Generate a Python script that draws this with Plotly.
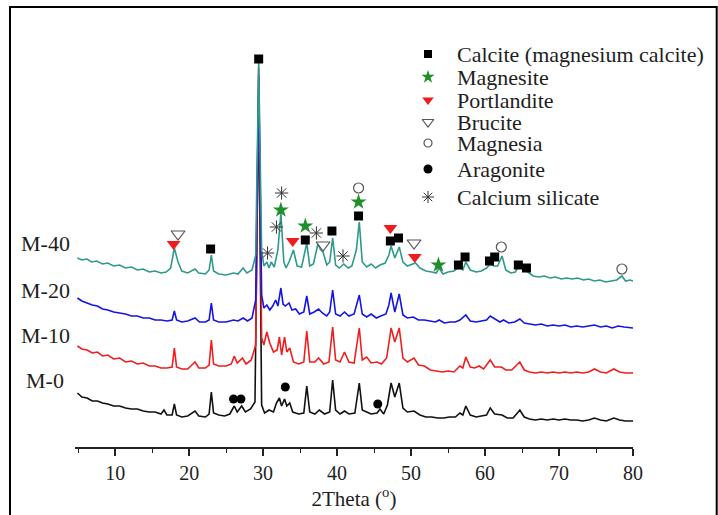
import plotly.graph_objects as go

# ---------------- data (2Theta in degrees, stacked intensity in a.u.) ----------------
m40_x = [4.9,5.5,6.2,6.8,7.5,8.3,9.0,9.8,10.6,11.4,12.2,13.0,13.8,14.6,15.4,16.2,16.9,17.5,18.0,18.5,19.0,19.8,20.8,21.3,22.2,22.7,23.0,23.3,24.0,25.0,26.0,26.6,27.3,27.8,28.5,29.0,29.4,29.8,30.1,30.5,30.8,31.1,31.5,32.0,32.4,32.8,33.1,33.5,34.1,34.6,35.2,35.9,36.3,36.8,37.4,37.8,38.1,38.6,39.0,39.4,39.8,40.3,40.9,41.5,42.0,42.6,43.0,43.4,44.0,44.6,45.2,45.8,46.5,47.0,47.3,47.8,48.4,48.9,49.5,50.2,50.6,51.2,52.0,52.8,53.4,53.8,54.3,55.0,55.8,56.5,57.0,57.4,58.0,58.8,59.5,60.2,60.7,61.2,61.7,62.3,62.8,63.5,64.1,64.6,65.2,65.8,66.5,67.3,68.0,68.8,69.5,70.3,71.0,71.8,72.5,73.3,74.0,74.8,75.5,76.3,77.0,77.8,78.5,79.0,79.6,80.0]
m40_y = [189,187,188,185,186,183,184,181,182,179,180,177,178,175,176,174,175,179,199,185,176,174,178,174,173,177,192,176,173,172,174,173,179,174,177,192,385,197,181,185,179,185,180,197,234,185,179,185,197,181,180,204,181,183,203,197,195,182,185,209,182,179,183,179,181,197,225,185,180,183,179,182,184,192,201,189,200,185,181,183,184,179,176,175,174,179,173,175,176,180,177,185,177,175,176,179,183,181,181,191,177,174,175,182,177,175,171,170,171,169,170,168,169,168,169,167,168,166,167,165,166,167,171,166,167,166]

m20_x = [4.9,5.5,6.2,6.9,7.6,8.3,9.0,9.8,10.6,11.4,12.2,13.0,13.8,14.6,15.4,16.2,17.0,17.7,18.0,18.3,19.0,19.8,20.8,21.4,22.2,22.7,23.0,23.3,24.0,25.0,26.0,26.6,27.3,27.9,28.5,29.0,29.4,29.8,30.1,30.5,30.9,31.3,31.7,32.0,32.4,32.7,33.0,33.5,33.9,34.4,34.9,35.5,35.9,36.3,36.9,37.5,38.0,38.6,39.0,39.4,39.8,40.4,41.0,41.6,42.3,43.0,43.4,44.0,44.6,45.3,45.9,46.6,47.0,47.3,47.8,48.4,48.9,49.5,50.3,51.0,51.8,52.6,53.3,53.8,54.5,55.3,56.0,56.6,57.4,58.0,58.8,59.5,60.2,60.7,61.3,62.0,62.5,63.2,64.0,64.7,65.3,66.0,66.8,67.6,68.4,69.2,70.0,70.8,71.6,72.4,73.2,74.0,74.8,75.6,76.4,77.2,78.0,78.8,79.5,80.0]
m20_y = [149,146,144,142,141,138,137,135,134,133,131,131,129,129,127,127,126,127,136,127,125,126,129,125,125,127,144,127,125,125,127,126,129,126,129,147,372,152,139,142,137,141,147,141,159,143,141,144,137,138,133,135,151,133,135,138,134,131,135,157,133,131,135,131,133,152,133,130,133,129,131,133,142,154,135,153,132,129,130,127,127,126,125,127,124,125,125,127,132,126,125,126,127,131,128,125,127,124,125,128,124,123,122,123,121,122,121,122,120,121,120,121,122,120,121,119,121,120,119,119]

m10_x = [4.9,5.5,6.2,6.9,7.6,8.3,9.0,9.8,10.6,11.4,12.2,13.0,13.8,14.6,15.4,16.2,17.0,17.7,18.0,18.3,19.0,19.8,20.8,21.3,22.2,22.7,23.0,23.3,24.0,25.0,25.7,26.1,26.5,27.2,27.7,28.4,29.0,29.4,29.8,30.1,30.5,30.9,31.4,31.9,32.2,32.5,32.9,33.2,33.6,34.1,34.8,35.5,35.9,36.3,37.0,37.5,38.2,38.9,39.4,39.8,40.4,41.0,41.6,42.3,43.0,43.4,44.0,44.6,45.4,46.0,46.7,47.3,47.8,48.4,48.9,49.5,50.4,51.0,51.8,52.6,53.4,54.2,55.0,55.8,56.6,57.0,57.4,58.0,58.6,59.2,59.8,60.7,61.3,62.2,62.8,63.6,64.7,65.3,66.0,66.8,67.6,68.4,69.2,70.0,70.8,71.6,72.4,73.2,74.0,74.8,75.6,76.4,77.4,78.2,79.0,80.0]
m10_y = [101,98,97,94,95,91,92,88,89,85,86,83,84,81,81,79,79,80,99,80,78,78,85,79,79,82,107,83,81,81,83,91,84,89,83,87,102,379,109,102,115,104,95,97,110,92,110,95,99,85,83,85,116,85,85,89,83,85,120,87,85,95,85,84,119,87,90,84,85,83,89,119,105,119,89,85,89,82,81,77,76,75,76,75,81,79,90,80,79,81,78,87,80,80,77,77,85,77,75,74,75,74,75,74,75,74,75,74,75,78,75,74,78,75,74,74]

m0_x = [4.9,5.5,6.2,6.9,7.6,8.3,9.0,9.8,10.6,11.4,12.2,13.0,13.8,14.6,15.4,16.2,16.6,17.0,17.7,18.0,18.3,19.0,19.8,20.8,21.3,22.2,22.7,23.0,23.3,24.0,24.8,25.5,26.1,26.5,27.1,27.6,28.3,28.9,29.4,29.8,30.2,30.8,31.4,31.8,32.2,32.5,32.9,33.2,33.6,34.0,34.8,35.5,35.9,36.3,37.0,37.6,38.3,39.0,39.4,39.8,40.4,41.0,41.6,42.4,43.0,43.4,44.0,44.6,45.4,45.8,46.3,46.8,47.3,47.8,48.4,48.9,49.5,50.4,51.2,52.0,52.8,53.6,54.4,55.2,56.0,56.6,57.0,57.4,58.0,58.8,59.5,60.2,60.7,61.3,62.3,63.0,63.8,64.7,65.3,66.0,66.8,67.6,68.4,69.2,70.0,70.8,71.6,72.4,73.2,74.0,74.8,75.6,76.4,77.4,78.2,79.0,80.0]
m0_y = [54,50,49,46,46,44,43,41,41,39,38,38,36,35,35,33,37,32,32,43,32,30,31,36,31,30,33,55,34,32,31,33,41,35,41,35,38,45,352,42,34,37,35,44,49,41,48,41,44,35,33,34,61,35,33,37,33,35,67,37,33,36,33,34,64,37,35,33,34,38,33,42,64,50,64,39,35,36,32,30,30,29,29,30,30,34,32,41,32,30,31,32,39,33,32,29,29,37,30,28,27,28,27,28,27,28,27,27,26,27,29,27,26,29,27,26,26]

curve_names = ["M-0", "M-10", "M-20", "M-40"]
curve_colors = ["#111111", "#f01e1e", "#1414e6", "#2e9a8c"]
label_y = [67, 112, 157, 204]

# phase markers (2Theta, stacked intensity)
calcite_x = [22.9, 29.4, 35.7, 39.3, 42.9, 47.2, 48.3, 56.4, 57.3, 60.6, 61.3, 64.5, 65.6]
calcite_y = [198, 388, 207, 216, 231, 206, 209, 182, 190, 186, 190, 182, 179]
magnesite_x = [32.4, 35.7, 42.9, 53.7]
magnesite_y = [237, 221, 245, 182]
portlandite_x = [17.9, 34.0, 47.2, 50.5]
portlandite_y = [203, 206, 219, 190]
brucite_x = [18.5, 38.1, 50.4]
brucite_y = [213, 202, 204]
magnesia_x = [42.9, 62.2, 78.5]
magnesia_y = [259, 200, 178]
aragonite_x = [26.0, 27.0, 33.0, 45.5]
aragonite_y = [48, 48, 60, 43]
silicate_x = [30.6, 31.8, 32.5, 37.2, 40.8]
silicate_y = [194, 220, 254, 214, 191]

x_ticks = [10, 20, 30, 40, 50, 60, 70, 80]

# ---------------- figure ----------------
FONT = "Liberation Serif, Times New Roman, serif"
TXT = "#1e1e1e"
fig = go.Figure()

curves_x = [m0_x, m10_x, m20_x, m40_x]
curves_y = [m0_y, m10_y, m20_y, m40_y]
for name, cx, cy, col in zip(curve_names, curves_x, curves_y, curve_colors):
    fig.add_trace(go.Scatter(x=cx, y=cy, mode="lines", name=name,
                             line=dict(color=col, width=1.6), showlegend=False,
                             hoverinfo="skip"))

phases = [
    ("Calcite (magnesium calcite)", calcite_x, calcite_y,
     dict(symbol="square", color="black", size=9)),
    ("Magnesite", magnesite_x, magnesite_y,
     dict(symbol="star", color="#1f8f2a", size=12)),
    ("Portlandite", portlandite_x, portlandite_y,
     dict(symbol="triangle-down", color="#ee1c1c", size=12)),
    ("Brucite", brucite_x, brucite_y,
     dict(symbol="triangle-down-open", color="#555555", size=12, line=dict(width=1.2))),
    ("Magnesia", magnesia_x, magnesia_y,
     dict(symbol="circle-open", color="#555555", size=10, line=dict(width=1.2))),
    ("Aragonite", aragonite_x, aragonite_y,
     dict(symbol="circle", color="black", size=9)),
    ("Calcium silicate", silicate_x, silicate_y,
     dict(symbol="asterisk-open", color="#333333", size=11, line=dict(width=1, color="#333333"))),
]
for name, px_, py_, mk in phases:
    fig.add_trace(go.Scatter(x=px_, y=py_, mode="markers", name=name, marker=mk,
                             cliponaxis=False, showlegend=False))

# hand-placed legend on an overlay axis measured in figure pixels
LEG_KEY_X = 428
LEG_TEXT_X = 455
LEG_ROWS = [54, 77, 100, 122, 143, 169, 197]
leg_small = {"Calcite (magnesium calcite)": 8, "Magnesite": 10, "Portlandite": 10,
             "Brucite": 10, "Magnesia": 8, "Aragonite": 9, "Calcium silicate": 10}
for (name, _, _, mk), row in zip(phases, LEG_ROWS):
    mk2 = dict(mk)
    mk2["size"] = leg_small[name]
    fig.add_trace(go.Scatter(x=[LEG_KEY_X], y=[row], xaxis="x2", yaxis="y2",
                             mode="markers", marker=mk2, showlegend=False,
                             hoverinfo="skip", cliponaxis=False))
    fig.add_annotation(x=LEG_TEXT_X, y=row, xref="x2", yref="y2", text=name,
                       showarrow=False, xanchor="left", yanchor="middle",
                       font=dict(family=FONT, size=22, color=TXT))

for name, ly in zip(curve_names, label_y):
    fig.add_annotation(x=-0.053, xref="paper", y=ly, yref="y", text=name,
                       showarrow=False, font=dict(family=FONT, size=22, color=TXT),
                       xanchor="center", yanchor="middle")

# outer frame of the figure
fig.add_shape(type="rect", xref="paper", yref="paper",
              x0=-0.1165, x1=1.15, y0=-0.19, y1=1.108,
              line=dict(color="black", width=2))

fig.update_layout(
    width=718, height=515,
    margin=dict(l=75, r=85, t=50, b=68),
    paper_bgcolor="white", plot_bgcolor="white",
    font=dict(family=FONT, color=TXT),
    showlegend=False,
    xaxis=dict(range=[4.57, 80], showgrid=False, zeroline=False,
               showline=True, linecolor="#222222", linewidth=1.5,
               ticks="outside", ticklen=7, tickwidth=1.5, tickcolor="#222222",
               tickvals=x_ticks,
               minor=dict(ticks="outside", ticklen=4, tickwidth=1.2, dtick=5, tickcolor="#222222"),
               tickfont=dict(family=FONT, size=20, color=TXT),
               title=dict(text="2Theta (<sup>o</sup>)", font=dict(family=FONT, size=21, color=TXT),
                          standoff=2)),
    yaxis=dict(range=[0, 397], visible=False),
    xaxis2=dict(range=[75, 633], overlaying="x", visible=False, fixedrange=True),
    yaxis2=dict(range=[447, 50], overlaying="y", visible=False, fixedrange=True),
)

fig.write_html("out.html")
